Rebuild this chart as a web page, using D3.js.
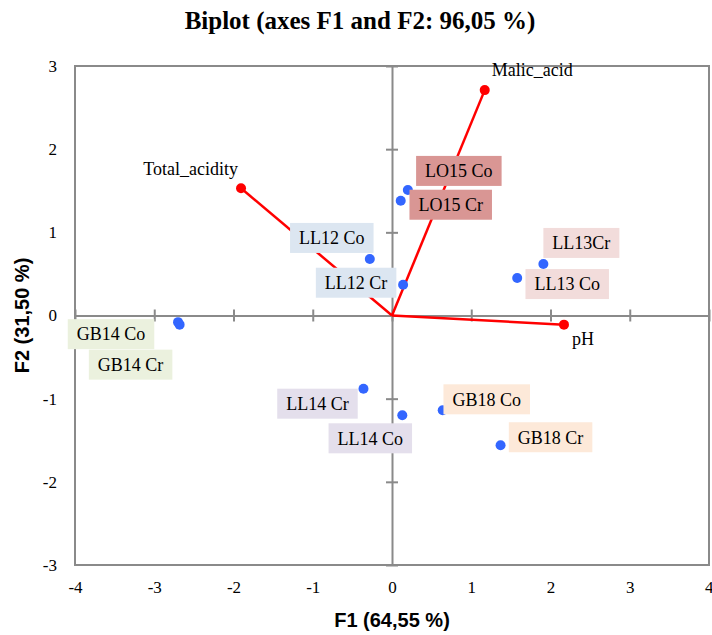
<!DOCTYPE html>
<html>
<head>
<meta charset="utf-8">
<script src="https://cdn.jsdelivr.net/npm/d3@7"></script>
<style>
  html, body { margin: 0; padding: 0; background: #fff; }
  svg { display: block; }
</style>
</head>
<body>
<svg id="chart" width="712" height="635"></svg>
<script>
// Observations (F1, F2 scores)
const obsNames = ["LO15 Co", "LO15 Cr", "LL12 Co", "LL12 Cr", "LL13Cr", "LL13 Co",
                  "GB14 Co", "GB14 Cr", "LL14 Cr", "LL14 Co", "GB18 Co", "GB18 Cr"];
const obsF1 = [0.20, 0.11, -0.28, 0.14, 1.91, 1.58, -2.70, -2.68, -0.36, 0.13, 0.64, 1.37];
const obsF2 = [1.51, 1.38, 0.68, 0.37, 0.62, 0.45, -0.08, -0.11, -0.88, -1.20, -1.14, -1.56];
const obsGroup = ["LO15", "LO15", "LL12", "LL12", "LL13", "LL13",
                  "GB14", "GB14", "LL14", "LL14", "GB18", "GB18"];

// Active variables (loadings)
const varNames = ["Malic_acid", "Total_acidity", "pH"];
const varF1 = [1.17, -1.905, 2.17];
const varF2 = [2.71, 1.53, -0.11];

// Axis ticks
const xTicks = [-4, -3, -2, -1, 0, 1, 2, 3, 4];
const yTicks = [-3, -2, -1, 0, 1, 2, 3];

// Label fill per group
const groupFill = {
  LO15: "#d99694", LL12: "#dce6f1", LL13: "#f2dcdb",
  GB14: "#ebf1de", LL14: "#e4dfec", GB18: "#fde9d9"
};

// Label box centre offsets from each point (px)
const obsLabelOffset = [[51, -19], [50, 4], [-38, -21], [-47, -2], [38, -21], [50, 6],
                        [-67, 12], [-49, 40], [-46, 15], [-32, 23], [44, -11], [50, -8]];
// Variable label anchors: [dx, dy, text-anchor]
const varLabelOffset = [[7, -14, "start"], [-3, -13, "end"], [8, 20, "start"]];

const svg = d3.select("#chart");
const plotLeft = 75, plotRight = 709, plotTop = 66, plotBottom = 565;

const x = d3.scaleLinear().domain([-4, 4]).range([plotLeft, plotRight]);
const y = d3.scaleLinear().domain([-3, 3]).range([plotBottom, plotTop]);

const axisGrey = "#8a8a8a";
const serif = "'Liberation Serif', 'Times New Roman', serif";
const sans = "'Liberation Sans', Arial, sans-serif";
const plainNum = d => String(d);   // hyphen-minus, as in the printed axis

// Title
svg.append("text")
  .attr("x", 360).attr("y", 29)
  .attr("text-anchor", "middle")
  .style("font-family", serif).style("font-weight", "bold").style("font-size", "25px")
  .text("Biplot (axes F1 and F2: 96,05 %)");

// Zero axes with cross ticks, drawn via d3 axes
const xZero = svg.append("g").attr("transform", `translate(0,${y(0)})`)
  .call(d3.axisBottom(x).tickValues(xTicks).tickSize(0).tickFormat(""));
xZero.select(".domain").attr("stroke", axisGrey).attr("stroke-width", 2);
xZero.selectAll(".tick").append("line")
  .attr("y1", -6).attr("y2", 6).attr("stroke", axisGrey).attr("stroke-width", 2);

const yZero = svg.append("g").attr("transform", `translate(${x(0)},0)`)
  .call(d3.axisLeft(y).tickValues(yTicks).tickSize(0).tickFormat(""));
yZero.select(".domain").attr("stroke", axisGrey).attr("stroke-width", 2);
yZero.selectAll(".tick").append("line")
  .attr("x1", -6).attr("x2", 6).attr("stroke", axisGrey).attr("stroke-width", 2);

// Frame
svg.append("rect")
  .attr("x", plotLeft).attr("y", plotTop)
  .attr("width", plotRight - plotLeft).attr("height", plotBottom - plotTop)
  .attr("fill", "none").attr("stroke", axisGrey).attr("stroke-width", 2);

// Tick labels outside the frame
const xLab = svg.append("g").attr("transform", `translate(0,${plotBottom})`)
  .call(d3.axisBottom(x).tickValues(xTicks).tickSize(0).tickPadding(16).tickFormat(plainNum));
xLab.select(".domain").remove();
xLab.selectAll("text").style("font-family", serif).style("font-size", "17px").attr("fill", "#000");
xLab.selectAll(".tick").filter(d => d === 4).select("text").attr("text-anchor", "end").attr("dx", 4);

const yLab = svg.append("g").attr("transform", `translate(${plotLeft},0)`)
  .call(d3.axisLeft(y).tickValues(yTicks).tickSize(0).tickPadding(18).tickFormat(plainNum));
yLab.select(".domain").remove();
yLab.selectAll("text").style("font-family", serif).style("font-size", "17px").attr("fill", "#000");

// Axis titles
svg.append("text")
  .attr("x", x(0)).attr("y", 627)
  .attr("text-anchor", "middle")
  .style("font-family", sans).style("font-weight", "bold").style("font-size", "20px")
  .text("F1 (64,55 %)");
svg.append("text")
  .attr("transform", `translate(29,${y(0)}) rotate(-90)`)
  .attr("text-anchor", "middle")
  .style("font-family", sans).style("font-weight", "bold").style("font-size", "20px")
  .text("F2 (31,50 %)");

// Variable vectors
const vars = varNames.map((n, i) => ({ name: n, f1: varF1[i], f2: varF2[i], off: varLabelOffset[i] }));
svg.append("g").selectAll("line").data(vars).join("line")
  .attr("x1", x(0)).attr("y1", y(0))
  .attr("x2", d => x(d.f1)).attr("y2", d => y(d.f2))
  .attr("stroke", "#ff0000").attr("stroke-width", 2.5);
svg.append("g").selectAll("circle").data(vars).join("circle")
  .attr("cx", d => x(d.f1)).attr("cy", d => y(d.f2)).attr("r", 5)
  .attr("fill", "#ff0000");
svg.append("g").selectAll("text").data(vars).join("text")
  .attr("x", d => x(d.f1) + d.off[0]).attr("y", d => y(d.f2) + d.off[1])
  .attr("text-anchor", d => d.off[2])
  .style("font-family", serif).style("font-size", "18px").attr("fill", "#000")
  .text(d => d.name);

// Observation points
const obs = obsNames.map((n, i) => ({
  name: n, f1: obsF1[i], f2: obsF2[i], group: obsGroup[i], off: obsLabelOffset[i]
}));
svg.append("g").selectAll("circle").data(obs).join("circle")
  .attr("cx", d => x(d.f1)).attr("cy", d => y(d.f2)).attr("r", 5)
  .attr("fill", "#3366ff");

// Observation labels with coloured boxes
const labels = svg.append("g").selectAll("g").data(obs).join("g")
  .attr("transform", d => `translate(${x(d.f1) + d.off[0]},${y(d.f2) + d.off[1]})`);
const rects = labels.append("rect").attr("fill", d => groupFill[d.group]);
const texts = labels.append("text")
  .attr("text-anchor", "middle").attr("dy", "0.35em")
  .style("font-family", serif).style("font-size", "18px").attr("fill", "#000")
  .text(d => d.name);
texts.each(function () {
  const w = this.getComputedTextLength();
  d3.select(this.parentNode).select("rect")
    .attr("x", -w / 2 - 9).attr("y", -15)
    .attr("width", w + 18).attr("height", 30);
});
</script>
</body>
</html>
